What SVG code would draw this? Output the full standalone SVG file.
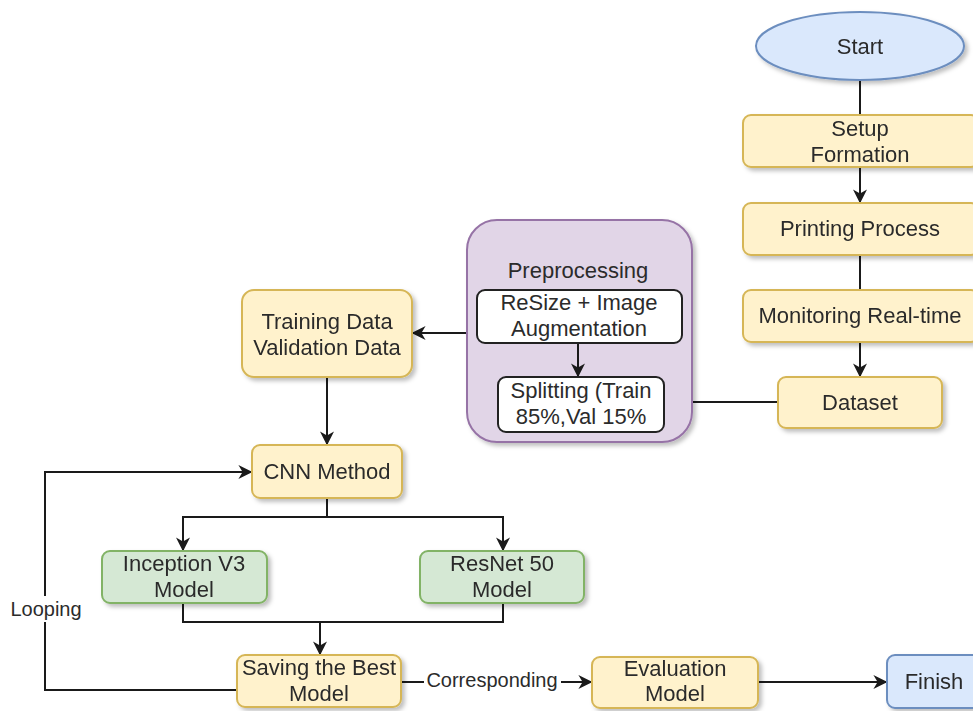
<svg xmlns="http://www.w3.org/2000/svg" width="973" height="711" viewBox="0 0 973 711">
<style>
.t{font-family:"Liberation Sans",Arial,sans-serif;font-size:22px;fill:#2b2b2b;text-anchor:middle}
.l{font-family:"Liberation Sans",Arial,sans-serif;font-size:20px;fill:#2b2b2b;text-anchor:middle}
.y{fill:#fff2cc;stroke:#d6b656;stroke-width:2}
.g{fill:#d5e8d4;stroke:#82b366;stroke-width:2}
.b{fill:#dae8fc;stroke:#6c8ebf;stroke-width:2}
.p{fill:#e1d5e7;stroke:#9673a6;stroke-width:2}
.w{fill:#fff;stroke:#222;stroke-width:2}
.c{fill:none;stroke:#1a1a1a;stroke-width:2}
</style>
<defs>
<filter id="sh" x="-10%" y="-10%" width="130%" height="140%">
<feDropShadow dx="3" dy="3" stdDeviation="2" flood-color="#000" flood-opacity="0.25"/>
</filter>
<marker id="a" viewBox="0 0 10 10" refX="9" refY="5" markerWidth="7" markerHeight="7" orient="auto" markerUnits="strokeWidth">
<path d="M0,0 L10,5 L0,10 L3,5 Z" fill="#1a1a1a"/>
</marker>
</defs>
<rect width="973" height="711" fill="#fff"/>

<g id="connectors">
<path class="c" d="M860,80 V115"/>
<path class="c" d="M860,167 V202" marker-end="url(#a)"/>
<path class="c" d="M860,255 V290"/>
<path class="c" d="M860,342 V376" marker-end="url(#a)"/>
<path class="c" d="M778,402 H692"/>
<path class="c" d="M467,333 H413" marker-end="url(#a)"/>
<path class="c" d="M327,377 V444" marker-end="url(#a)"/>
<path class="c" d="M327,498 V517 H183 V550" marker-end="url(#a)"/>
<path class="c" d="M327,517 H503 V550" marker-end="url(#a)"/>
<path class="c" d="M183,603 V622 H503 V603"/>
<path class="c" d="M320,622 V654" marker-end="url(#a)"/>
<path class="c" d="M237,690 H45 V472 H251" marker-end="url(#a)"/>
<path class="c" d="M400,682 H591" marker-end="url(#a)"/>
<path class="c" d="M758,682 H886" marker-end="url(#a)"/>
<rect x="9" y="596" width="74" height="26" fill="#fff"/>
<text class="l" x="46" y="616">Looping</text>
<rect x="424" y="668" width="137" height="26" fill="#fff"/>
<text class="l" x="492" y="687">Corresponding</text>
</g>

<g id="start" filter="url(#sh)">
<ellipse class="b" cx="860" cy="46" rx="104" ry="34"/>
<text class="t" x="860" y="54">Start</text>
</g>
<g id="setup" filter="url(#sh)">
<rect class="y" x="743" y="115" width="236" height="52" rx="8"/>
<text class="t" x="860" y="136">Setup</text>
<text class="t" x="860" y="162">Formation</text>
</g>
<g id="printing" filter="url(#sh)">
<rect class="y" x="743" y="203" width="236" height="52" rx="8"/>
<text class="t" x="860" y="236">Printing Process</text>
</g>
<g id="monitoring" filter="url(#sh)">
<rect class="y" x="743" y="290" width="236" height="52" rx="8"/>
<text class="t" x="860" y="323">Monitoring Real-time</text>
</g>
<g id="dataset" filter="url(#sh)">
<rect class="y" x="778" y="377" width="164" height="51" rx="8"/>
<text class="t" x="860" y="410">Dataset</text>
</g>
<g id="preprocessing">
<rect class="p" x="467" y="220" width="225" height="222" rx="30" filter="url(#sh)"/>
<text class="t" x="578" y="278">Preprocessing</text>
<path class="c" d="M578,343 V376" marker-end="url(#a)"/>
<g id="resize">
<rect class="w" x="477" y="290" width="205" height="53" rx="8"/>
<text class="t" x="579" y="310">ReSize + Image</text>
<text class="t" x="579" y="336">Augmentation</text>
</g>
<g id="splitting">
<rect class="w" x="498" y="377" width="166" height="55" rx="8"/>
<text class="t" x="581" y="398">Splitting (Train</text>
<text class="t" x="581" y="424">85%,Val 15%</text>
</g>
</g>
<g id="training" filter="url(#sh)">
<rect class="y" x="242" y="290" width="170" height="87" rx="12"/>
<text class="t" x="327" y="329">Training Data</text>
<text class="t" x="327" y="355">Validation Data</text>
</g>
<g id="cnn" filter="url(#sh)">
<rect class="y" x="252" y="445" width="150" height="53" rx="8"/>
<text class="t" x="327" y="479">CNN Method</text>
</g>
<g id="inception" filter="url(#sh)">
<rect class="g" x="102" y="551" width="165" height="52" rx="8"/>
<text class="t" x="184" y="571">Inception V3</text>
<text class="t" x="184" y="597">Model</text>
</g>
<g id="resnet" filter="url(#sh)">
<rect class="g" x="420" y="551" width="164" height="52" rx="8"/>
<text class="t" x="502" y="571">ResNet 50</text>
<text class="t" x="502" y="597">Model</text>
</g>
<g id="saving" filter="url(#sh)">
<rect class="y" x="237" y="655" width="164" height="52" rx="8"/>
<text class="t" x="319" y="675">Saving the Best</text>
<text class="t" x="319" y="701">Model</text>
</g>
<g id="evaluation" filter="url(#sh)">
<rect class="y" x="592" y="657" width="166" height="51" rx="8"/>
<text class="t" x="675" y="676">Evaluation</text>
<text class="t" x="675" y="701">Model</text>
</g>
<g id="finish" filter="url(#sh)">
<rect class="b" x="887" y="655" width="94" height="53" rx="8"/>
<text class="t" x="934" y="689">Finish</text>
</g>
</svg>
